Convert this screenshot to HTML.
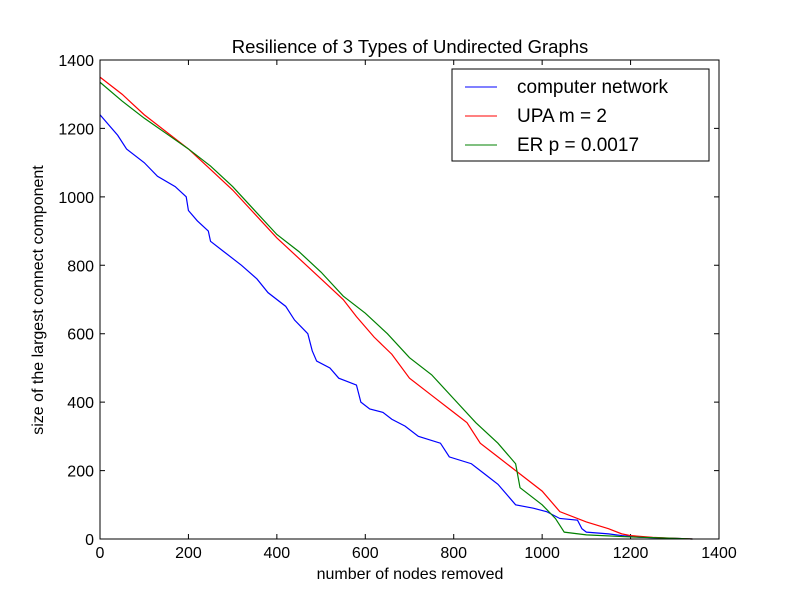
<!DOCTYPE html>
<html><head><meta charset="utf-8"><style>
body{margin:0;background:#fff}
svg text{font-family:"Liberation Sans","DejaVu Sans",sans-serif;fill:#000}
</style></head><body>
<svg id="chart" width="800" height="600">
<rect width="800" height="600" fill="#fff"/>
<text x="410" y="53" font-size="18.5" text-anchor="middle">Resilience of 3 Types of Undirected Graphs</text>
<text x="410" y="579" font-size="16" text-anchor="middle">number of nodes removed</text>
<text x="43" y="300" font-size="16" text-anchor="middle" transform="rotate(-90 43 300)">size of the largest connect component</text>
<g id="ticks"></g>
<g id="series"></g>
<rect x="100" y="60" width="619" height="479" fill="none" stroke="#000"/>
<g>
<rect x="452" y="69" width="257" height="92" fill="#fff" stroke="#000"/>
<line x1="465" y1="87" x2="497" y2="87" stroke="#0000ff"/>
<text x="517" y="93" font-size="19">computer network</text>
<line x1="465" y1="116" x2="497" y2="116" stroke="#ff0000"/>
<text x="517" y="122" font-size="19">UPA m = 2</text>
<line x1="465" y1="145" x2="497" y2="145" stroke="#008000"/>
<text x="517" y="151" font-size="19">ER p = 0.0017</text>
</g>
</svg>
<script>
const xTicks=[0,200,400,600,800,1000,1200,1400];
const yTicks=[0,200,400,600,800,1000,1200,1400];
const blueX=[0,20,40,60,100,130,170,195,200,220,245,250,280,320,355,380,420,440,470,480,490,520,540,580,590,610,640,660,690,720,770,790,840,870,900,920,940,980,1010,1040,1080,1090,1100,1150,1180,1220,1300,1340];
const blueY=[1240,1210,1180,1140,1100,1060,1030,1000,960,930,900,870,840,800,760,720,680,640,600,550,520,500,470,450,400,380,370,350,330,300,280,240,220,190,160,130,100,90,80,60,55,30,20,15,10,5,2,0];
const redX=[0,50,100,150,200,250,300,350,400,450,500,550,580,620,660,700,750,800,830,860,900,950,1000,1040,1100,1150,1180,1200,1250,1300,1340];
const redY=[1350,1300,1240,1190,1140,1080,1020,950,880,820,760,700,650,590,540,470,420,370,340,280,240,190,140,80,50,30,15,10,5,2,0];
const greenX=[0,50,100,150,200,250,300,350,400,450,500,550,600,650,700,750,800,850,900,940,950,1000,1030,1050,1100,1200,1300,1340];
const greenY=[1335,1280,1230,1185,1140,1090,1030,960,890,840,780,710,660,600,530,480,410,340,280,220,150,100,60,20,12,6,2,0];
const X0=100,X1=719,Y0=539,Y1=60;
const sx=v=>X0+v/1400*(X1-X0), sy=v=>Y0-v/1400*(Y0-Y1);
const NS="http://www.w3.org/2000/svg";
const tg=document.getElementById('ticks');
xTicks.forEach(t=>{
 const x=sx(t);
 const l=document.createElementNS(NS,'path');
 l.setAttribute('d',`M${x},${Y0}v-5M${x},${Y1}v5`);l.setAttribute('stroke','#000');
 
 
 tg.appendChild(l);
 const tx=document.createElementNS(NS,'text');
 tx.setAttribute('x',x);tx.setAttribute('y',Y0+19);tx.setAttribute('font-size','16');tx.setAttribute('text-anchor','middle');
 tx.textContent=t;
 
 
 tg.appendChild(tx);
});
yTicks.forEach(t=>{
 const y=sy(t);
 const l=document.createElementNS(NS,'path');
 l.setAttribute('d',`M${X0},${y}h5M${X1},${y}h-5`);l.setAttribute('stroke','#000');
 
 
 tg.appendChild(l);
 const tx=document.createElementNS(NS,'text');
 tx.setAttribute('x',X0-6);tx.setAttribute('y',y+6);tx.setAttribute('font-size','16');tx.setAttribute('text-anchor','end');
 tx.textContent=t;
 
 
 tg.appendChild(tx);
});
const sg=document.getElementById('series');
function draw(xs,ys,color,name){
 const p=document.createElementNS(NS,'polyline');
 p.setAttribute('points',xs.map((x,i)=>sx(x)+','+sy(ys[i])).join(' '));
 p.setAttribute('fill','none');p.setAttribute('stroke',color);p.setAttribute('stroke-width','1.2');
 
 
 sg.appendChild(p);
}
draw(blueX,blueY,'#0000ff','computer-network-line');
draw(redX,redY,'#ff0000','upa-line');
draw(greenX,greenY,'#008000','er-line');
</script>
</body></html>
